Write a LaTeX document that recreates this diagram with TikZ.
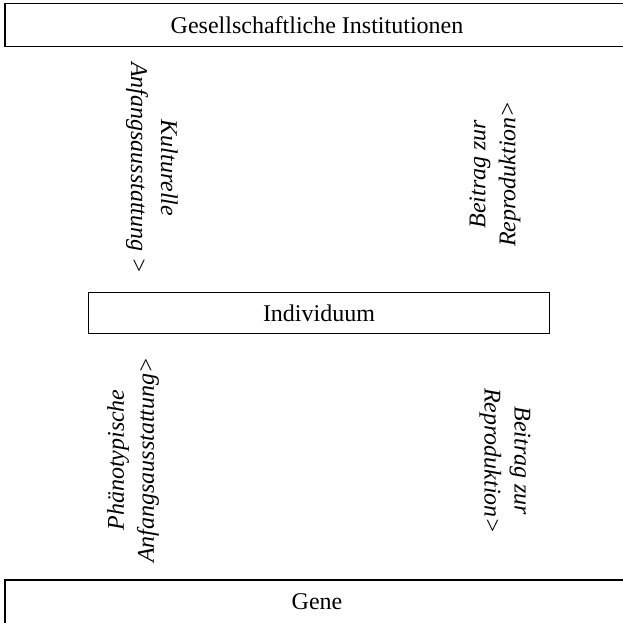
\documentclass[tikz,border=0pt]{standalone}
\usepackage{fontspec}
\setmainfont{Liberation Serif}
\usetikzlibrary{positioning}

\begin{document}
\begin{tikzpicture}[
    x=0.5pt, y=-0.5pt,
    box/.style={draw, line width=0.6pt, inner sep=0pt, text centered,
                font=\fontsize{12}{15}\selectfont},
    lbl/.style={inner sep=0pt, align=center,
                font=\fontsize{12}{15}\selectfont\itshape}
  ]
  \useasboundingbox (0,0) rectangle (623,623);
  \node[box, minimum width=312pt, minimum height=21.2pt] (inst) at (317,25)
    {Gesellschaftliche Institutionen};
  \node[box, minimum width=230.3pt, minimum height=20.5pt] (indiv) at (319,313.2)
    {Individuum};
  \node[box, minimum width=312pt, minimum height=22pt] (gene) at (317,602)
    {Gene};

  % Pfeiltexte oben
  \node[lbl, rotate=-90] (kult) at (152,168)
    {Kulturelle\\Anfangsausstattung >};
  \node[lbl, rotate=90] (reproOben) at (495,174)
    {Beitrag zur\\Reproduktion>};
  % Pfeiltexte unten
  \node[lbl, rotate=90] (pheno) at (133,460)
    {Phänotypische\\Anfangsausstattung>};
  \node[lbl, rotate=-90] (reproUnten) at (505,461)
    {Beitrag zur\\Reproduktion>};
\end{tikzpicture}
\end{document}
